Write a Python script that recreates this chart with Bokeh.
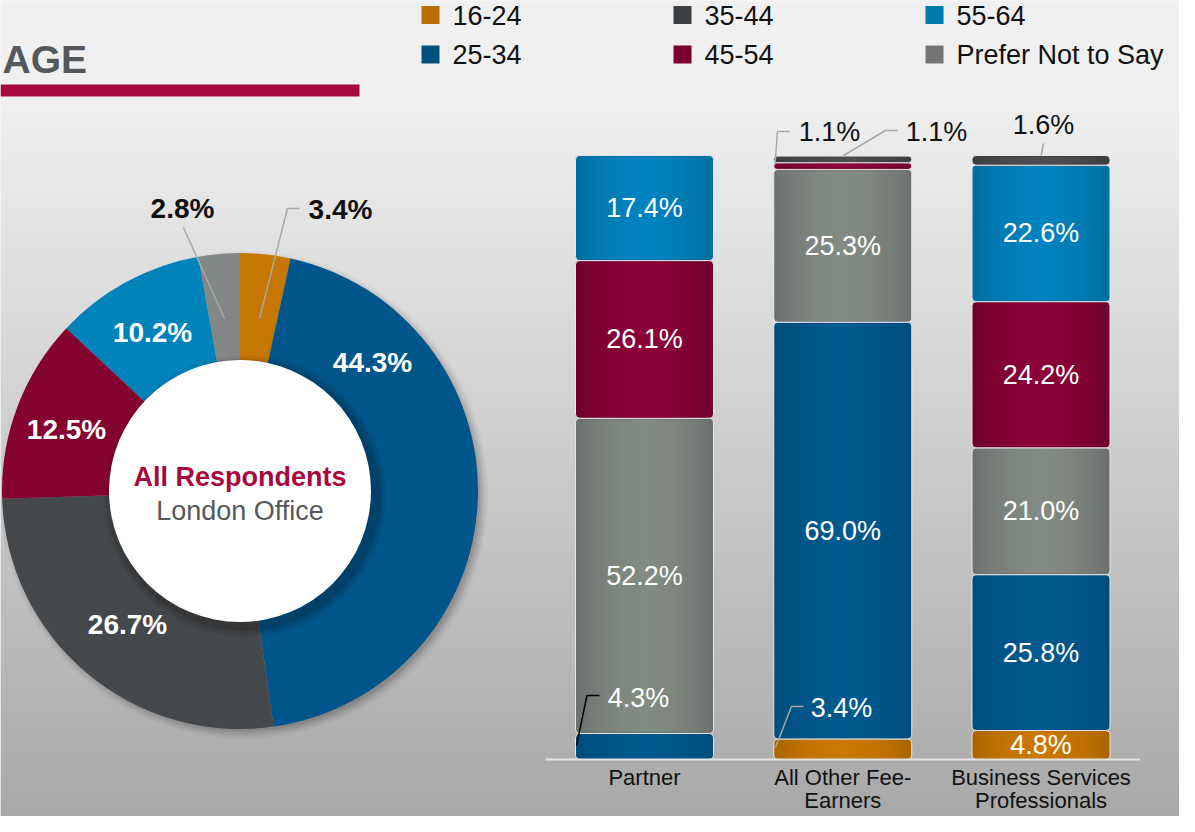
import numpy as np
from bokeh.plotting import figure
from bokeh.models import Range1d, ColumnDataSource
from bokeh.core.properties import value
from bokeh.embed import file_html
from bokeh.resources import INLINE

# ---------------- data ----------------
age_groups = ["16-24", "25-34", "35-44", "45-54", "55-64", "Prefer Not to Say"]
legend_colors = ["#b86e00", "#00507e", "#3e4143", "#7a0030", "#0079ab", "#727574"]

donut_values = [3.4, 44.3, 26.7, 12.5, 10.2, 2.8]
donut_labels = ["3.4%", "44.3%", "26.7%", "12.5%", "10.2%", "2.8%"]
donut_colors = ["#c57700", "#00568a", "#45484a", "#85042f", "#0082ba", "#838786"]

categories = ["Partner", "All Other Fee-\nEarners", "Business Services\nProfessionals"]
bar_series = {
    "16-24":             [0.0, 3.4, 4.8],
    "25-34":             [4.3, 69.0, 25.8],
    "Prefer Not to Say": [52.2, 25.3, 21.0],
    "45-54":             [26.1, 1.1, 24.2],
    "55-64":             [17.4, 0.0, 22.6],
    "35-44":             [0.0, 1.1, 1.6],
}
stack_order = ["16-24", "25-34", "Prefer Not to Say", "45-54", "55-64", "35-44"]
bar_edge_colors = {"16-24": "#ab6600", "25-34": "#004e7c", "Prefer Not to Say": "#6d7170",
                   "45-54": "#70002b", "55-64": "#006e9f", "35-44": "#3a3d3f"}
bar_center_colors = {"16-24": "#dc8400", "25-34": "#00659e", "Prefer Not to Say": "#929695",
                     "45-54": "#9a0a3f", "55-64": "#0093d0", "35-44": "#575a5c"}

# ---------------- layout (screen pixels of the page) ----------------
W, H = 1179, 816
OX, OY = 8, 8
def S(y):            # page y (downwards) -> data y (upwards)
    return OY + H - y

FONT = value("Liberation Sans")

p = figure(width=W, height=H, x_range=Range1d(OX, OX + W), y_range=Range1d(0, H),
           output_backend="svg", toolbar_location=None,
           x_axis_location=None, y_axis_location=None, min_border=0)
p.outline_line_color = None
p.xgrid.visible = False
p.ygrid.visible = False
p.background_fill_color = "#f0f0f0"
p.border_fill_color = "#f0f0f0"

# background gradient
rows = H
img = np.empty((rows, 1), dtype=np.uint32)
view = img.view(dtype=np.uint8).reshape((rows, 1, 4))
for j in range(rows):
    Y = OY + H - (j + 0.5)
    g = 240 if Y < 110 else 240 - 72 * (Y - 110) / 722
    view[j, 0, 0] = int(g); view[j, 0, 1] = int(g); view[j, 0, 2] = int(g); view[j, 0, 3] = 255
p.image_rgba(image=[img], x=OX, y=0, dw=W, dh=H)

# title
p.text(x=[10], y=[S(67)], text=["AGE"], text_font=FONT, text_font_style="bold",
       text_font_size="39px", text_color="#55585a", text_align="left",
       text_baseline="alphabetic")
p.quad(left=[OX], right=[367], top=[S(92)], bottom=[S(104)], color="#a6093d", line_color=None)

# legend
for i, (name, col) in enumerate(zip(age_groups, legend_colors)):
    c, r = i // 2, i % 2
    sx = 429 + c * 252
    cy = 22.5 + r * 39.5
    p.quad(left=[sx], right=[sx + 18], top=[S(cy - 9)], bottom=[S(cy + 9)],
           color=col, line_color=None)
    p.text(x=[sx + 31], y=[S(cy)], text=[name], text_font=FONT, text_font_size="27px",
           text_color="#111111", text_align="left", text_baseline="middle")

# ---------------- donut ----------------
CX, CY = 247.5, 498.5
R_OUT, R_IN = 238, 131
for k, a in zip([9, 7, 5, 3, 1], [0.03, 0.04, 0.05, 0.06, 0.08]):
    p.circle(x=[CX + 4], y=[S(CY + 4)], radius=R_OUT + k - 3, fill_color="black",
             fill_alpha=a, line_color=None)
tot = sum(donut_values)
fr = np.array(donut_values) / tot
cum = np.concatenate([[0], np.cumsum(fr)])
starts = np.pi / 2 - 2 * np.pi * cum[:-1]
ends = np.pi / 2 - 2 * np.pi * cum[1:]
p.annular_wedge(x=CX, y=S(CY), inner_radius=R_IN - 5, outer_radius=R_OUT,
                start_angle=starts, end_angle=ends, direction="clock",
                fill_color=donut_colors, line_color=None)
# hole shadow + hole
for k, a in zip([10, 7, 4], [0.06, 0.08, 0.10]):
    p.circle(x=[CX + 5], y=[S(CY + 5)], radius=R_IN + k, fill_color="black",
             fill_alpha=a, line_color=None)
p.circle(x=[CX], y=[S(CY)], radius=R_IN, fill_color="white", line_color=None)
p.text(x=[CX], y=[S(484)], text=["All Respondents"], text_font=FONT, text_font_style="bold",
       text_font_size="27px", text_color="#a6093d", text_align="center", text_baseline="middle")
p.text(x=[CX], y=[S(518)], text=["London Office"], text_font=FONT,
       text_font_size="27px", text_color="#55585a", text_align="center", text_baseline="middle")

# donut labels (positions as in the reference)
donut_label_pos = [(348, 217), (380, 370), (135, 632), (74, 437), (160, 340), (190, 216)]
donut_label_col = ["#111111", "white", "white", "white", "white", "#111111"]
p.text(x=[q[0] for q in donut_label_pos], y=[S(q[1]) for q in donut_label_pos],
       text=donut_labels, text_font=FONT, text_font_style="bold", text_font_size="28px",
       text_color=donut_label_col, text_align="center", text_baseline="middle")
p.multi_line(xs=[[267, 295, 307], [232, 191]],
             ys=[[S(326), S(216), S(216)], [S(326), S(235)]],
             line_color="#a8a8a8", line_width=1.5)

# ---------------- stacked bars ----------------
BX0, BDX = 652.0, 198.25
BASE, PPP = 767.0, 6.04
BW = 0.696
p.extra_x_ranges = {"bars": Range1d((OX - BX0) / BDX, (OX + W - BX0) / BDX)}
p.extra_y_ranges = {"pct": Range1d((BASE - (OY + H)) / PPP, (BASE - OY) / PPP)}

xi = list(range(len(categories)))
bottom = np.zeros(len(categories))
label_x, label_y, label_t = [], [], []
inset = 0.18
for name in stack_order:
    vals = np.array(bar_series[name])
    top = bottom + vals
    keep = vals > 0
    xs = [xi[i] for i in range(len(xi)) if keep[i]]
    b, t = bottom[keep], top[keep]
    src = ColumnDataSource(dict(x=xs, bottom=b, top=t))
    p.vbar(x="x", bottom="bottom", top="top", width=BW, source=src,
           fill_color=bar_edge_colors[name], line_color="#e6e6e6", line_width=1,
           border_radius=4, x_range_name="bars", y_range_name="pct")
    # side-to-side shading: narrowing translucent strips toward the centre colour
    for k in range(1, 15):
        f = 1 - k / 15.0
        p.vbar(x=xs, bottom=b + inset, top=t - inset, width=BW * f,
               fill_color=bar_center_colors[name], fill_alpha=0.09, line_color=None,
               x_range_name="bars", y_range_name="pct")
    for i in range(len(xi)):
        if vals[i] >= 4.5:
            label_x.append(xi[i]); label_y.append((bottom[i] + top[i]) / 2)
            label_t.append(f"{vals[i]:.1f}%")
    bottom = top

p.text(x=label_x, y=label_y, text=label_t, text_font=FONT, text_font_size="27px",
       text_color="white", text_align="center", text_baseline="middle",
       x_range_name="bars", y_range_name="pct")

# small-segment labels with leader lines
small = [("4.3%", 646, 705, "white"), ("3.4%", 849, 715, "white"),
         ("1.1%", 837, 139, "#111111"), ("1.1%", 944, 139, "#111111"),
         ("1.6%", 1051, 132, "#111111")]
p.text(x=[s[1] for s in small], y=[S(s[2]) for s in small], text=[s[0] for s in small],
       text_font=FONT, text_font_size="27px", text_color=[s[3] for s in small],
       text_align="center", text_baseline="middle")
p.multi_line(xs=[[584, 594.5, 607]], ys=[[S(753), S(703), S(703)]],
             line_color="black", line_width=1.5)
p.multi_line(xs=[[783, 799, 811], [782.5, 785, 797], [851, 893, 905], [1048.6, 1051]],
             ys=[[S(755), S(714), S(714)], [S(172), S(139), S(139)],
                 [S(163), S(138), S(138)], [S(163), S(151)]],
             line_color="#a8a8a8", line_width=1.5)

# baseline
p.segment(x0=[-0.5], x1=[2.5], y0=[0], y1=[0], line_color="#e4e4e4", line_width=2,
          x_range_name="bars", y_range_name="pct")

# category labels
p.text(x=xi, y=[S(772)] * 3, text=categories, text_font=FONT, text_font_size="22px",
       text_color="#111111", text_align="center", text_baseline="top",
       text_line_height=0.95, x_range_name="bars")

open("out.html", "w").write(file_html(p, INLINE))
